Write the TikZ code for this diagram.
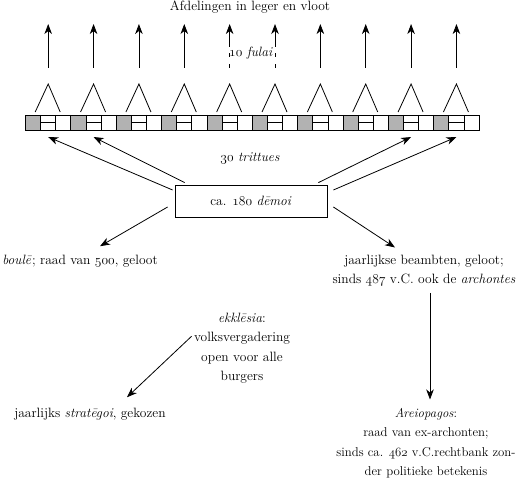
\RequirePackage{fix-cm}
\documentclass[tikz,border=0pt]{standalone}
\usetikzlibrary{arrows.meta}
\newcommand{\osnum}[1]{{\usefont{OML}{cmm}{m}{it}#1}}

\begin{document}
\begin{tikzpicture}[x=1pt,y=-1pt,line width=0.8pt,inner sep=2pt,
  font=\fontsize{13.5}{19.5}\selectfont,
  arr/.style={-{Stealth[length=10pt,width=7.5pt,inset=3pt]}},
  txt/.style={anchor=base},
  blok/.style={anchor=north,align=center}]
\useasboundingbox (0,0) rectangle (516,481);

% strip of 10 fulai with 3 trittues each
\foreach \i in {0,...,9} {
  \fill[black!30] (25.5+45.36*\i,115) rectangle ++(15.12,15);
  \draw (40.62+45.36*\i,122.5) -- ++(15.12,0);
  \draw (35.2+45.36*\i,112) -- (48.2+45.36*\i,84) -- (60.2+45.36*\i,112);
  \coordinate (f\i) at (48.2+45.36*\i,137);
  \coordinate (b\i) at (48.2+45.36*\i,68);
  \coordinate (t\i) at (48.2+45.36*\i,24);
}
\draw (25.5,115) rectangle (479.1,130);
\foreach \k in {1,...,29} \draw (25.5+15.12*\k,115) -- ++(0,15);

\foreach \i in {0,1,2,3,6,7,8,9} \draw[arr] (b\i) -- (t\i);
\foreach \i in {4,5} \draw[arr,dash pattern=on 4pt off 7pt on 4pt off 6pt on 60pt off 0pt] (b\i) -- (t\i);

\node[txt] (afd) at (250,11) {Afdelingen in leger en vloot};
\node[txt] (fulai) at (251,57) {\osnum{10} \textit{fulai}};
\node[txt] (tritt) at (250,161) {\osnum{30} \textit{trittues}};
\node[draw,minimum width=152pt,minimum height=32pt] (demoi) at (251,201) {ca. \osnum{180} \textit{dēmoi}};
\node[txt] (boule) at (80,264) {\textit{boulē}; raad van \osnum{500}, geloot};
\node[blok] (beambten) at (424,252.5) {jaarlijkse beambten, geloot;\\ sinds \osnum{487} v.C. ook de \textit{archontes}};
\node[blok] (ekklesia) at (242,310.5) {\textit{ekklēsia}:\\ volksvergadering\\ open voor alle\\ burgers};
\node[txt] (strategoi) at (90,417) {jaarlijks \textit{stratēgoi}, gekozen};
\node[blok,font=\fontsize{12.8}{19.5}\selectfont] (areio) at (426,405.5) {\textit{Areiopagos}:\\ raad van ex-archonten;\\ sinds ca. \osnum{462} v.C.rechtbank zon-\\ der politieke betekenis};

% demoi to the trittues
\draw[arr] ([xshift=-2pt,yshift=11pt]demoi.west) -- (f0);
\draw[arr] ([xshift=10pt,yshift=2pt]demoi.north west) -- (f1);
\draw[arr] ([xshift=-9pt,yshift=2pt]demoi.north east) -- (f8);
\draw[arr] ([xshift=6pt,yshift=11pt]demoi.east) -- (f9);

% demoi to the councils
\draw[arr] ([xshift=-7pt,yshift=-6pt]demoi.west) -- ([xshift=20pt,yshift=6pt]boule.north);
\draw[arr] ([xshift=6pt,yshift=-6pt]demoi.east) -- ([xshift=-29pt,yshift=5pt]beambten.north);
\draw[arr] ([yshift=12pt]ekklesia.west) -- ([xshift=37pt,yshift=8pt]strategoi.north);
\draw[arr] ([xshift=6pt,yshift=-4pt]beambten.south) -- ([xshift=4pt,yshift=6pt]areio.north);
\end{tikzpicture}
\end{document}
